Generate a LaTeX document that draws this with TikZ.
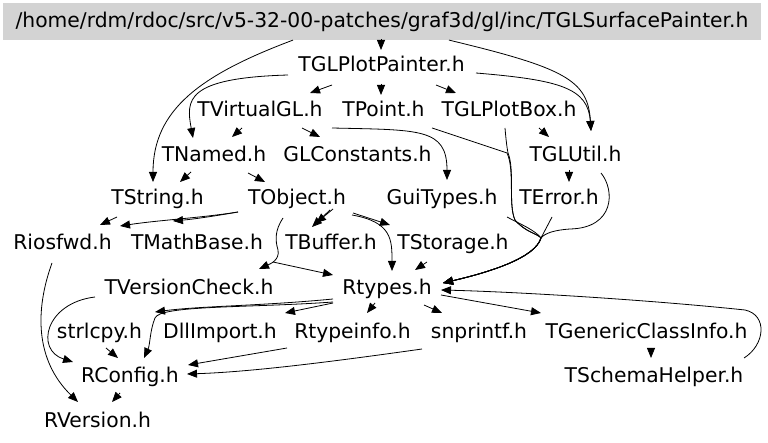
\documentclass[tikz,border=0pt]{standalone}
\usepackage{fontspec}
\setmainfont{DejaVu Sans}
\usetikzlibrary{arrows.meta}
\definecolor{rootgray}{RGB}{211,211,211}
\begin{document}
\begin{tikzpicture}[x=1pt,y=-1pt,
  lbl/.style={inner sep=0pt,anchor=base,font=\fontsize{20.3}{24}\selectfont},
  edge/.style={line width=0.8pt,-{Triangle[length=10pt,width=8pt]}}]
\useasboundingbox (0,0) rectangle (768,443);
% nodes
\node[lbl,anchor=center,fill=rootgray,minimum width=758pt,minimum height=37pt] (root) at (382,21.5) {/home/rdm/rdoc/src/v5-32-00-patches/graf3d/gl/inc/TGLSurfacePainter.h};
\node[lbl] (pp) at (381.5,72) {TGLPlotPainter.h};
\node[lbl] (vgl) at (260,117) {TVirtualGL.h};
\node[lbl] (pt) at (383.5,117) {TPoint.h};
\node[lbl] (pb) at (509,117) {TGLPlotBox.h};
\node[lbl] (nm) at (214,162) {TNamed.h};
\node[lbl] (glc) at (357.5,162) {GLConstants.h};
\node[lbl] (glu) at (575.5,162) {TGLUtil.h};
\node[lbl] (str) at (157.5,205) {TString.h};
\node[lbl] (obj) at (297,205) {TObject.h};
\node[lbl] (gui) at (442,205) {GuiTypes.h};
\node[lbl] (err) at (559,205) {TError.h};
\node[lbl] (ios) at (62.5,250) {Riosfwd.h};
\node[lbl] (mb) at (197,250) {TMathBase.h};
\node[lbl] (buf) at (331,250) {TBuffer.h};
\node[lbl] (sto) at (453,250) {TStorage.h};
\node[lbl] (vc) at (189,295) {TVersionCheck.h};
\node[lbl] (rt) at (387,295) {Rtypes.h};
\node[lbl] (slc) at (99.5,338) {strlcpy.h};
\node[lbl] (dll) at (220,338) {DllImport.h};
\node[lbl] (rti) at (352.5,338) {Rtypeinfo.h};
\node[lbl] (snp) at (479,338) {snprintf.h};
\node[lbl] (gci) at (646.5,338) {TGenericClassInfo.h};
\node[lbl] (rc) at (130,382) {RConfig.h};
\node[lbl] (sh) at (654,382) {TSchemaHelper.h};
\node[lbl] (rv) at (97.5,427) {RVersion.h};
% edges
\draw[edge] ([shift={(-1,12)}]root.base) -- ([shift={(-0.5,-22)}]pp.base);
\draw[edge] ([shift={(-89,13)}]root.base) .. controls (200,75) and (153,110) .. ([shift={(-4.5,-23)}]str.base);
\draw[edge] ([shift={(67,13)}]root.base) .. controls (565,68) and (588,80) .. ([shift={(15.5,-31)}]glu.base);
\draw[edge] ([shift={(94.5,1)}]pp.base) .. controls (560,80) and (588,88) .. ([shift={(15.5,-31)}]glu.base);
\draw[edge] ([shift={(-49.5,13)}]pp.base) -- ([shift={(50,-24)}]vgl.base);
\draw[edge] ([shift={(-0.5,12)}]pp.base) -- ([shift={(-2.5,-22)}]pt.base);
\draw[edge] ([shift={(54.5,13)}]pp.base) -- ([shift={(-53,-24)}]pb.base);
\draw[edge] ([shift={(-93.5,3)}]pp.base) .. controls (185,78) and (186,100) .. ([shift={(-21,-24)}]nm.base);
\draw[edge] ([shift={(-18,11)}]vgl.base) -- ([shift={(18,-25)}]nm.base);
\draw[edge] ([shift={(42,11)}]vgl.base) -- ([shift={(-37.5,-25)}]glc.base);
\draw[edge] ([shift={(72,11)}]vgl.base) .. controls (420,130) and (447,128) .. ([shift={(5,-25)}]gui.base);
% bundle into Rtypes
\draw[edge] ([shift={(48.5,11)}]pt.base) -- (507,153) .. controls (515,170) and (508,205) .. (515,220) .. controls (525,232) and (538,234) .. (541,238) .. controls (535,258) and (490,272) .. ([shift={(56,-12)}]rt.base);
\draw[edge] ([shift={(-4,11)}]pb.base) .. controls (506,140) and (507,148) .. (508,153) .. controls (515,170) and (508,205) .. (515,220) .. controls (525,232) and (538,234) .. (541,238) .. controls (535,258) and (490,272) .. ([shift={(56,-12)}]rt.base);
\draw[edge] ([shift={(65,12)}]gui.base) .. controls (520,224) and (535,230) .. (541,238) .. controls (535,258) and (490,272) .. ([shift={(56,-12)}]rt.base);
\draw[edge] ([shift={(-7,12)}]err.base) -- (541,238) .. controls (535,258) and (490,272) .. ([shift={(56,-12)}]rt.base);
\draw[edge] ([shift={(25.5,11)}]glu.base) .. controls (615,190) and (615,228) .. (570,229) .. controls (555,230) and (545,233) .. (541,238) .. controls (535,258) and (490,272) .. ([shift={(56,-12)}]rt.base);
% middle
\draw[edge] ([shift={(-23,10)}]nm.base) -- ([shift={(22.5,-23)}]str.base);
\draw[edge] ([shift={(34,11)}]nm.base) -- ([shift={(-32,-23)}]obj.base);
\draw[edge] ([shift={(-40.5,12)}]str.base) -- ([shift={(37.5,-25)}]ios.base);
\draw[edge] ([shift={(-59,7)}]obj.base) .. controls (215,216) and (195,219) .. ([shift={(-24,-29)}]mb.base);
\draw[edge] ([shift={(-59,7)}]obj.base) .. controls (200,218) and (160,220) .. ([shift={(57.5,-24)}]ios.base);
\draw[edge] ([shift={(33,5)}]obj.base) -- ([shift={(-19,-23)}]buf.base);
\draw[edge] ([shift={(36,4)}]obj.base) -- ([shift={(-15,-27)}]buf.base);
\draw[edge] ([shift={(56,8)}]obj.base) -- ([shift={(-63,-25)}]sto.base);
\draw[edge] ([shift={(55,10)}]obj.base) .. controls (392,222) and (392,240) .. ([shift={(5,-24)}]rt.base);
\draw[edge] ([shift={(-26,12)}]sto.base) -- ([shift={(28,-25)}]rt.base);
\draw[edge] ([shift={(-14,13)}]obj.base) .. controls (275,230) and (275,240) .. (278,250) .. controls (280,260) and (270,264) .. ([shift={(70,-26)}]vc.base);
\draw[edge] ([shift={(84,-33)}]vc.base) -- ([shift={(-54,-20)}]rt.base);
% left curves
\draw[edge] ([shift={(-10.5,13)}]ios.base) .. controls (35,310) and (35,360) .. ([shift={(-19.5,-25)}]rv.base);
\draw[edge] ([shift={(-94,2)}]vc.base) .. controls (45,303) and (35,350) .. ([shift={(-57,-20)}]rc.base);
% from Rtypes
\draw[edge] ([shift={(-54,4)}]rt.base) .. controls (260,306) and (200,306) .. ([shift={(55.5,-26)}]slc.base);
\draw[edge] ([shift={(-54,7)}]rt.base) .. controls (250,308) and (160,305) .. (155,318) .. controls (150,330) and (150,345) .. ([shift={(14,-24)}]rc.base);
\draw[edge] ([shift={(-54,8)}]rt.base) -- ([shift={(65,-25)}]dll.base);
\draw[edge] ([shift={(-12,8)}]rt.base) -- ([shift={(14.5,-25)}]rti.base);
\draw[edge] ([shift={(37,10)}]rt.base) -- ([shift={(-37,-25)}]snp.base);
\draw[edge] ([shift={(54,0)}]rt.base) -- ([shift={(-105.5,-25)}]gci.base);
\draw[edge] ([shift={(4.5,10)}]gci.base) -- ([shift={(-3,-24)}]sh.base);
\draw[edge] ([shift={(90,-24)}]sh.base) .. controls (765,345) and (768,315) .. (745,310) .. controls (650,300) and (520,292) .. ([shift={(54,-5)}]rt.base);
% into RConfig / RVersion
\draw[edge] ([shift={(-65.5,10)}]rti.base) -- ([shift={(58,-17)}]rc.base);
\draw[edge] ([shift={(-57,11)}]snp.base) .. controls (330,362) and (250,372) .. ([shift={(57,-8)}]rc.base);
\draw[edge] ([shift={(6.5,10)}]slc.base) -- ([shift={(-12,-24)}]rc.base);
\draw[edge] ([shift={(-10,11)}]rc.base) -- ([shift={(14.5,-25)}]rv.base);
% TGLPlotBox / TGLUtil
\draw[edge] ([shift={(30,11)}]pb.base) -- ([shift={(-26.5,-25)}]glu.base);
\draw[edge] ([shift={(-6.5,8)}]glu.base) -- ([shift={(10,-23)}]err.base);
\end{tikzpicture}
\end{document}
